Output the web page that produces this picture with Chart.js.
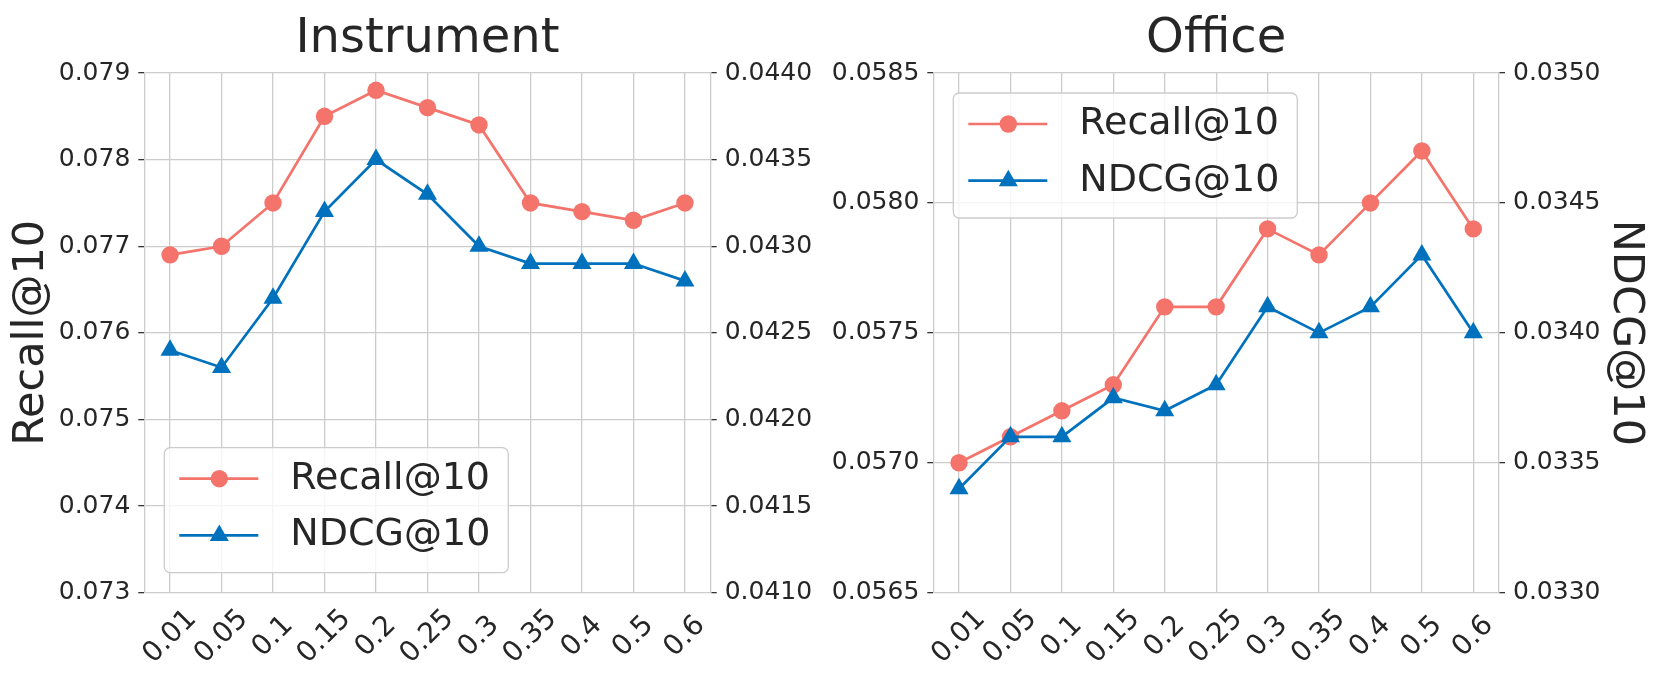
<!DOCTYPE html>
<html>
<head>
<meta charset="utf-8">
<script src="https://cdn.jsdelivr.net/npm/chart.js@4.4.1/dist/chart.umd.min.js"></script>
<style>
  body { margin: 0; background: #fff; }
  .row { display: flex; width: 1660px; height: 684px; }
  .panel { width: 830px; height: 684px; }
</style>
</head>
<body>
<div class="row">
  <div class="panel"><canvas id="instrument" width="830" height="684"></canvas></div>
  <div class="panel"><canvas id="office" width="830" height="684"></canvas></div>
</div>
<script>
// x categories (ratio)
const ratios = ['0.01', '0.05', '0.1', '0.15', '0.2', '0.25', '0.3', '0.35', '0.4', '0.5', '0.6'];

// Instrument
const instrumentRecall = [0.0769, 0.0770, 0.0775, 0.0785, 0.0788, 0.0786, 0.0784, 0.0775, 0.0774, 0.0773, 0.0775];
const instrumentNdcg = [0.0424, 0.0423, 0.0427, 0.0432, 0.0435, 0.0433, 0.0430, 0.0429, 0.0429, 0.0429, 0.0428];
const instrumentRecallTicks = [0.073, 0.079, 0.001];
const instrumentNdcgTicks = [0.0410, 0.0440, 0.0005];

// Office
const officeRecall = [0.0570, 0.0571, 0.0572, 0.0573, 0.0576, 0.0576, 0.0579, 0.0578, 0.0580, 0.0582, 0.0579];
const officeNdcg = [0.0334, 0.0336, 0.0336, 0.03375, 0.0337, 0.0338, 0.0341, 0.0340, 0.0341, 0.0343, 0.0340];
const officeRecallTicks = [0.0565, 0.0585, 0.0005];
const officeNdcgTicks = [0.0330, 0.0350, 0.0005];

const FONT = 'DejaVu Sans';
const TEXT = '#262626';
const GRID = '#cccccc';
const RED = '#F4736B';
const BLUE = '#0072BD';

// rotated x labels centred on the tick (matplotlib style)
const xLabelPlugin = {
    id: 'xLabels',
    afterDraw(chart) {
        const ctx = chart.ctx;
        const xs = chart.scales.x;
        const area = chart.chartArea;
        ctx.save();
        ctx.font = '28px "' + FONT + '"';
        ctx.fillStyle = TEXT;
        ctx.textAlign = 'center';
        ctx.textBaseline = 'middle';
        chart.data.labels.forEach((lab, i) => {
            ctx.save();
            ctx.translate(xs.getPixelForValue(i), area.bottom + 44);
            ctx.rotate(-Math.PI / 4);
            ctx.fillText(lab, 0, 0);
            ctx.restore();
        });
        ctx.restore();
    }
};

// legend box inside the plot area
const boxLegend = {
    id: 'boxLegend',
    afterDatasetsDraw(chart, args, opts) {
        const ctx = chart.ctx;
        const a = chart.chartArea;
        const w = 344, h = 125, pad = 20, r = 6;
        const left = a.left + pad;
        const top = opts.corner === 'top' ? a.top + pad : a.bottom - pad - h;
        ctx.save();
        ctx.beginPath();
        ctx.moveTo(left + r, top);
        ctx.arcTo(left + w, top, left + w, top + h, r);
        ctx.arcTo(left + w, top + h, left, top + h, r);
        ctx.arcTo(left, top + h, left, top, r);
        ctx.arcTo(left, top, left + w, top, r);
        ctx.closePath();
        ctx.fillStyle = 'rgba(255,255,255,0.8)';
        ctx.fill();
        ctx.strokeStyle = GRID;
        ctx.lineWidth = 1.3;
        ctx.stroke();

        chart.data.datasets.forEach((ds, i) => {
            const y = top + 31 + i * 56.7;
            ctx.strokeStyle = ds.borderColor;
            ctx.lineWidth = ds.borderWidth;
            ctx.beginPath();
            ctx.moveTo(left + 15, y);
            ctx.lineTo(left + 94, y);
            ctx.stroke();
            ctx.fillStyle = ds.backgroundColor;
            Chart.helpers.drawPoint(ctx, {
                pointStyle: ds.pointStyle, radius: ds.pointRadius, rotation: 0, borderWidth: 0
            }, left + 55, y);
            ctx.fillStyle = TEXT;
            ctx.font = '38px "' + FONT + '"';
            ctx.textAlign = 'left';
            ctx.textBaseline = 'middle';
            ctx.fillText(ds.label, left + 126, y);
        });
        ctx.restore();
    }
};

function yAxis(position, ticks, digits, width, title, titlePad, onArea) {
    return {
        type: 'linear',
        position: position,
        min: ticks[0],
        max: ticks[1],
        afterFit: s => { s.width = width; },
        ticks: {
            stepSize: ticks[2],
            callback: v => Number(v).toFixed(digits),
            font: { size: 25, family: FONT },
            color: TEXT,
            padding: 8
        },
        grid: {
            drawOnChartArea: onArea,
            color: GRID,
            lineWidth: 1.3,
            tickColor: '#333',
            tickLength: 6,
            tickWidth: 1.3
        },
        border: { color: GRID, width: 1.3 },
        title: {
            display: !!title,
            text: title,
            font: { size: 43, family: FONT, lineHeight: 1.2 },
            color: TEXT,
            padding: { top: titlePad, bottom: 0 }
        }
    };
}

function makePanel(id, title, recall, ndcg, recallTicks, ndcgTicks, leftDigits, sizes, legendCorner) {
    const ctx = document.getElementById(id).getContext('2d');
    new Chart(ctx, {
        type: 'line',
        data: {
            labels: ratios,
            datasets: [
                {
                    label: 'Recall@10',
                    data: recall,
                    yAxisID: 'y',
                    borderColor: RED,
                    backgroundColor: RED,
                    borderWidth: 2.7,
                    pointStyle: 'circle',
                    pointRadius: 8.7,
                    pointBorderWidth: 0,
                    tension: 0,
                    clip: false,
                    order: 2
                },
                {
                    label: 'NDCG@10',
                    data: ndcg,
                    yAxisID: 'y1',
                    borderColor: BLUE,
                    backgroundColor: BLUE,
                    borderWidth: 2.7,
                    pointStyle: 'triangle',
                    pointRadius: 11,
                    pointBorderWidth: 0,
                    tension: 0,
                    clip: false,
                    order: 1
                }
            ]
        },
        options: {
            responsive: false,
            animation: false,
            events: [],
            layout: { padding: 0 },
            plugins: {
                legend: { display: false },
                tooltip: { enabled: false },
                title: {
                    display: true,
                    text: title,
                    fullSize: false,
                    color: TEXT,
                    font: { size: 48, family: FONT, weight: 'normal', lineHeight: 1 },
                    padding: { top: 16, bottom: 9 }
                },
                boxLegend: { corner: legendCorner }
            },
            scales: {
                x: {
                    type: 'category',
                    offset: true,
                    afterFit: s => { s.height = 91.3; },
                    ticks: { display: false },
                    grid: { offset: false, color: GRID, lineWidth: 1.3, drawTicks: false },
                    border: { display: false }
                },
                y: yAxis('left', recallTicks, leftDigits, sizes.left, sizes.leftTitle, 6, true),
                y1: yAxis('right', ndcgTicks, 4, sizes.right, sizes.rightTitle, 9, false)
            }
        },
        plugins: [xLabelPlugin, boxLegend]
    });
}

makePanel('instrument', 'Instrument', instrumentRecall, instrumentNdcg,
    instrumentRecallTicks, instrumentNdcgTicks, 3,
    { left: 144.3, right: 119.3, leftTitle: 'Recall@10', rightTitle: '' }, 'bottom');

makePanel('office', 'Office', officeRecall, officeNdcg,
    officeRecallTicks, officeNdcgTicks, 4,
    { left: 103.3, right: 161, leftTitle: '', rightTitle: 'NDCG@10' }, 'top');
</script>
</body>
</html>
